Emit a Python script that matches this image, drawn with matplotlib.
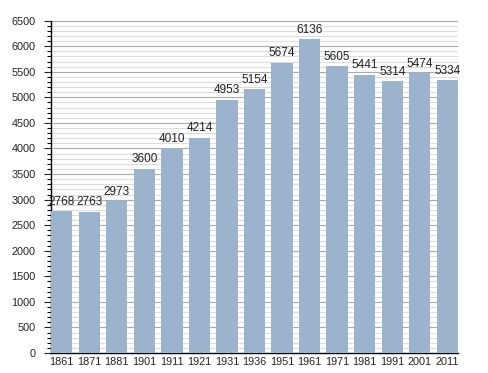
import matplotlib
matplotlib.use("Agg")
import matplotlib.pyplot as plt
from matplotlib.ticker import MultipleLocator

# Population by census year
years = ["1861", "1871", "1881", "1901", "1911", "1921", "1931", "1936",
         "1951", "1961", "1971", "1981", "1991", "2001", "2011"]
population = [2768, 2763, 2973, 3600, 4010, 4214, 4953, 5154,
              5674, 6136, 5605, 5441, 5314, 5474, 5334]

plt.rcParams['font.family'] = ['Liberation Sans', 'DejaVu Sans']
plt.rcParams['font.size'] = 7.8

fig = plt.figure(figsize=(4.88, 3.73), dpi=100)
ax = fig.add_axes([0.1045, 0.0536, 0.834, 0.891])

positions = range(len(years))
bar_width = 0.774
bars = ax.bar(positions, population, width=bar_width, color='#9cb3cd', zorder=3)

# Value labels above each bar
for x, v in zip(positions, population):
    ax.annotate(str(v), (x, v), xytext=(0, 2.5), textcoords='offset points',
                ha='center', va='bottom', fontsize=8.5, color='#222222', zorder=4)

ax.set_xlim(-bar_width / 2, len(years) - 1 + bar_width / 2)
ax.set_ylim(0, 6500)
ax.set_xticks(list(positions))
ax.set_xticklabels(years)

ax.yaxis.set_major_locator(MultipleLocator(500))
ax.yaxis.set_minor_locator(MultipleLocator(100))
ax.grid(which='major', axis='y', color='#aaaaaa', linewidth=0.8, zorder=0)
ax.grid(which='minor', axis='y', color='#dddddd', linewidth=0.8, zorder=0)

ax.tick_params(axis='x', length=0, pad=3, colors='#222222')
ax.tick_params(axis='y', which='major', length=5, width=0.8, direction='out', colors='#222222', pad=6)
ax.tick_params(axis='y', which='minor', length=3, width=0.8, direction='out')

for side in ['top', 'right']:
    ax.spines[side].set_visible(False)
ax.spines['left'].set_linewidth(1.0)
ax.spines['bottom'].set_linewidth(1.0)

fig.savefig("out.png", dpi=100)
